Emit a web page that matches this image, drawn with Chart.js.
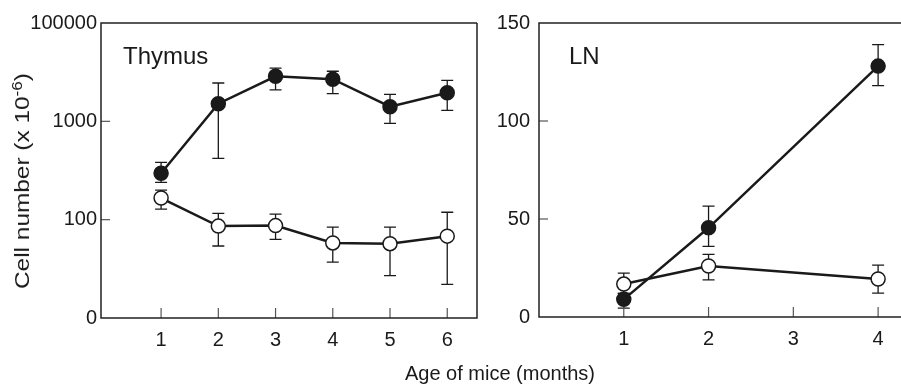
<!DOCTYPE html>
<html>
<head>
<meta charset="utf-8">
<script src="https://cdn.jsdelivr.net/npm/chart.js@4.4.1/dist/chart.umd.min.js"></script>
<style>
  html, body { margin: 0; padding: 0; background: #fff; }
  #wrap { position: relative; width: 901px; height: 386px; overflow: hidden; font-family: "Liberation Sans", Arial, sans-serif; color: #1a1a1a; }
  canvas { position: absolute; top: 0; }
  .lbl { position: absolute; white-space: nowrap; line-height: 1; }
  #ytitle { left: 22px; top: 181px; font-size: 20px; transform: translate(-50%, -50%) rotate(-90deg) scaleX(1.22); }
  #ytitle sup { font-size: 0.7em; vertical-align: 0.5em; line-height: 0; }
  #xtitle { left: 500px; top: 373px; font-size: 20px; transform: translate(-50%, -50%); }
  .panel { font-size: 24px; }
</style>
</head>
<body>
<div id="wrap">
  <canvas id="thymus" width="490" height="386" style="left:0"></canvas>
  <canvas id="ln" width="411" height="386" style="left:490px"></canvas>
  <div class="lbl" id="ytitle">Cell number (x 10<sup>-6</sup>)</div>
  <div class="lbl" id="xtitle">Age of mice (months)</div>
  <div class="lbl panel" style="left:123px; top:44px;">Thymus</div>
  <div class="lbl panel" style="left:569px; top:44px;">LN</div>
</div>
<script>
// Thymus panel (log scale)
const thymusMonths = [1, 2, 3, 4, 5, 6];
const thymusFilled = [296, 1510, 2870, 2680, 1410, 1950];
const thymusFilledHigh = [383, 2455, 3470, 3230, 1880, 2610];
const thymusFilledLow = [240, 420, 2090, 1910, 955, 1290];
const thymusOpen = [166, 86, 87, 58, 57, 68];
const thymusOpenHigh = [200, 116, 114, 84, 84, 119];
const thymusOpenLow = [128, 54, 63, 37, 27, 22];
const thymusTickValues = [10, 100, 1000, 10000];
const thymusTickLabels = ['0', '100', '1000', '100000'];

// LN panel (linear scale)
const lnMonths = [1, 2, 4];
const lnFilled = [9, 45.5, 128];
const lnFilledHigh = [12, 56.6, 139];
const lnFilledLow = [4.5, 36, 118];
const lnOpen = [16.8, 26, 19.4];
const lnOpenHigh = [22.4, 32, 26.5];
const lnOpenLow = [12, 18.9, 12.2];
const lnTickValues = [0, 50, 100, 150];
const lnXTicks = [1, 2, 3, 4];

const ink = '#1a1a1a';
const tickFont = { family: '"Liberation Sans", Arial, sans-serif', size: 20 };

function pts(xs, ys) {
    return xs.map((x, i) => ({ x: x, y: ys[i] }));
}

// frame, inward tick marks and error bars
const framePlugin = {
    id: 'frame',
    beforeDatasetsDraw(chart, args, opts) {
        const ctx = chart.ctx;
        const xs = chart.scales.x, ys = chart.scales.y;
        ctx.save();
        ctx.strokeStyle = ink;
        ctx.lineWidth = 1.3;
        chart.data.datasets.forEach(ds => {
            ds.data.forEach((p, i) => {
                const x = xs.getPixelForValue(p.x);
                const yh = ys.getPixelForValue(ds.errHigh[i]);
                const yl = ys.getPixelForValue(ds.errLow[i]);
                ctx.beginPath();
                ctx.moveTo(x, yh); ctx.lineTo(x, yl);
                ctx.moveTo(x - 6, yh); ctx.lineTo(x + 6, yh);
                ctx.moveTo(x - 6, yl); ctx.lineTo(x + 6, yl);
                ctx.stroke();
            });
        });
        ctx.restore();
    },
    afterDraw(chart, args, opts) {
        const ctx = chart.ctx;
        const a = chart.chartArea;
        const xs = chart.scales.x, ys = chart.scales.y;
        ctx.save();
        ctx.strokeStyle = '#555';
        ctx.lineWidth = 1.2;
        opts.xMarks.forEach(v => {
            const x = xs.getPixelForValue(v);
            ctx.beginPath(); ctx.moveTo(x, a.bottom); ctx.lineTo(x, a.bottom - 10); ctx.stroke();
        });
        opts.yMarks.forEach(v => {
            const y = ys.getPixelForValue(v);
            ctx.beginPath(); ctx.moveTo(a.left, y); ctx.lineTo(a.left + 9, y); ctx.stroke();
        });
        ctx.strokeStyle = '#222';
        ctx.lineWidth = 1.5;
        ctx.beginPath();
        ctx.moveTo(a.right, a.top); ctx.lineTo(a.left, a.top);
        ctx.lineTo(a.left, a.bottom); ctx.lineTo(a.right, a.bottom);
        if (opts.closed) { ctx.lineTo(a.right, a.top); }
        ctx.stroke();
        ctx.restore();
    }
};

function series(xs, ys, hi, lo, filled) {
    return {
        data: pts(xs, ys),
        errHigh: hi,
        errLow: lo,
        borderColor: ink,
        borderWidth: 2.5,
        tension: 0,
        pointRadius: 7,
        pointHoverRadius: 7,
        pointBackgroundColor: filled ? ink : '#fff',
        pointBorderColor: ink,
        pointBorderWidth: 1.5,
        clip: false
    };
}

function makeChart(id, cfg) {
    return new Chart(document.getElementById(id), {
        type: 'line',
        data: { datasets: cfg.datasets },
        options: {
            responsive: false,
            animation: false,
            layout: { padding: cfg.padding, autoPadding: false },
            plugins: {
                legend: { display: false },
                tooltip: { enabled: false },
                frame: cfg.frame
            },
            scales: {
                x: {
                    type: 'linear',
                    min: cfg.xMin, max: cfg.xMax,
                    grid: { display: false, drawTicks: false },
                    border: { display: false },
                    afterBuildTicks: s => { s.ticks = cfg.xTicks.map(v => ({ value: v })); },
                    afterFit: s => { s.height = cfg.xHeight; s.paddingLeft = 0; s.paddingRight = 0; },
                    ticks: { color: ink, font: tickFont, padding: 10, maxRotation: 0 }
                },
                y: {
                    type: cfg.yType,
                    min: cfg.yMin, max: cfg.yMax,
                    grid: { display: false, drawTicks: false },
                    border: { display: false },
                    afterBuildTicks: s => { s.ticks = cfg.yTicks.map(v => ({ value: v })); },
                    afterFit: s => { s.width = cfg.yWidth; s.paddingTop = 0; s.paddingBottom = 0; },
                    ticks: {
                        color: ink, font: tickFont, padding: cfg.yPad,
                        callback: (v, i) => cfg.yLabels[i]
                    }
                }
            }
        },
        plugins: [framePlugin]
    });
}

makeChart('thymus', {
    datasets: [
        series(thymusMonths, thymusFilled, thymusFilledHigh, thymusFilledLow, true),
        series(thymusMonths, thymusOpen, thymusOpenHigh, thymusOpenLow, false)
    ],
    padding: { left: 0, right: 13, top: 23, bottom: 0 },
    xMin: -0.05, xMax: 6.52, xTicks: thymusMonths, xHeight: 68,
    yType: 'logarithmic', yMin: 10, yMax: 10000,
    yTicks: thymusTickValues, yLabels: thymusTickLabels, yWidth: 101, yPad: 4,
    frame: { closed: true, xMarks: thymusMonths, yMarks: [100, 1000] }
});

makeChart('ln', {
    datasets: [
        series(lnMonths, lnFilled, lnFilledHigh, lnFilledLow, true),
        series(lnMonths, lnOpen, lnOpenHigh, lnOpenLow, false)
    ],
    padding: { left: 0, right: 0, top: 23, bottom: 0 },
    xMin: 0, xMax: 4.27, xTicks: lnXTicks, xHeight: 69,
    yType: 'linear', yMin: 0, yMax: 150,
    yTicks: lnTickValues, yLabels: lnTickValues.map(String), yWidth: 49, yPad: 9,
    frame: { closed: false, xMarks: lnXTicks, yMarks: [50, 100] }
});
</script>
</body>
</html>
